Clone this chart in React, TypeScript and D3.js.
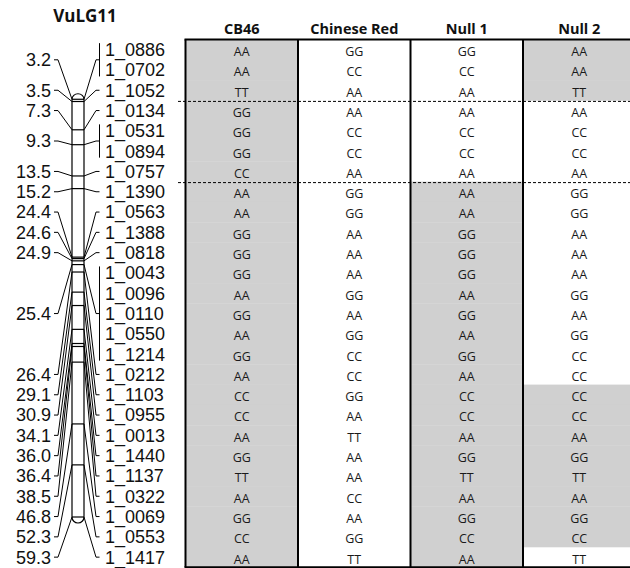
import React from "react";
import * as d3 from "d3";

const title = "VuLG11";
const markers = [
  "1_0886", "1_0702", "1_1052", "1_0134", "1_0531", "1_0894", "1_0757", "1_1390",
  "1_0563", "1_1388", "1_0818", "1_0043", "1_0096", "1_0110", "1_0550", "1_1214",
  "1_0212", "1_1103", "1_0955", "1_0013", "1_1440", "1_1137", "1_0322", "1_0069",
  "1_0553", "1_1417",
];
const positions = [
  3.2, 3.2, 3.5, 7.3, 9.3, 9.3, 13.5, 15.2, 24.4, 24.6, 24.9, 25.4, 25.4, 25.4, 25.4,
  25.4, 26.4, 29.1, 30.9, 34.1, 36.0, 36.4, 38.5, 46.8, 52.3, 59.3,
];
const lines = ["CB46", "Chinese Red", "Null 1", "Null 2"];
const cb46 = ["AA","AA","TT","GG","GG","GG","CC","AA","AA","GG","GG","GG","AA","GG","AA","GG","AA","CC","CC","AA","GG","TT","AA","GG","CC","AA"];
const chineseRed = ["GG","CC","AA","AA","CC","CC","AA","GG","GG","AA","AA","AA","GG","AA","GG","CC","CC","GG","AA","TT","AA","AA","CC","AA","GG","TT"];
const null1 = ["GG","CC","AA","AA","CC","CC","AA","AA","AA","GG","GG","GG","AA","GG","AA","GG","AA","CC","CC","AA","GG","TT","AA","GG","CC","AA"];
const null2 = ["AA","AA","TT","AA","CC","CC","AA","GG","GG","AA","AA","AA","GG","AA","GG","CC","CC","CC","CC","AA","GG","TT","AA","GG","CC","TT"];
const genotypes = [cb46, chineseRed, null1, null2];
const dividerAfterRows = [2, 6];

const W = 630;
const H = 568;

export default function App() {
  const yRow = d3.scaleBand<string>().domain(markers).range([39.5, 567.3]).padding(0);
  const rh = yRow.bandwidth();
  const rc = (i: number) => (yRow(markers[i]) as number) + rh / 2;
  const xCol = d3.scaleBand<string>().domain(lines).range([185.5, 635.5]).padding(0);
  const cw = xCol.bandwidth();
  const yCM = d3.scaleLinear().domain([3.5, 59.3]).range([101.5, 517]);

  const barL = 72;
  const barR = 84;
  const minP = d3.min(positions) as number;
  const maxP = d3.max(positions) as number;
  const yTop = yCM(minP);
  const yBot = yCM(maxP);

  const groups = d3.groups(
    positions.map((p, i) => ({ p, i })),
    (d) => d.p
  ).map(([p, arr]) => {
    const idx = arr.map((a) => a.i);
    const first = d3.min(idx) as number;
    const last = d3.max(idx) as number;
    return { p, first, last, ly: (rc(first) + rc(last)) / 2, my: yCM(p) };
  });

  const chromPath =
    `M${barL},${yTop} L${barL},${yBot} A6,6 0 0 0 ${barR},${yBot} ` +
    `L${barR},${yTop} A6,5.5 0 0 0 ${barL},${yTop} Z`;

  const labelFont = "'Liberation Sans', Arial, sans-serif";
  const tableFont = "'Open Sans', sans-serif";

  return (
    <svg
      width={W}
      height={H}
      style={{ position: "absolute", left: 0, top: 0, background: "#fff" }}
    >
      <rect x={0} y={0} width={W} height={H} fill="#fff" />
      <text
        x={85}
        y={22}
        textAnchor="middle"
        fontFamily={tableFont}
        fontWeight="bold"
        fontSize={17}
        fill="#111"
      >
        {title}
      </text>

      {lines.map((ln, c) =>
        markers.map((m, r) => {
          const g = genotypes[c][r];
          const shaded = g === cb46[r];
          return (
            <g key={`${c}-${r}`}>
              {shaded && (
                <rect
                  x={xCol(ln) as number}
                  y={yRow(m) as number}
                  width={cw}
                  height={rh + 0.3}
                  fill="#d0d0d0"
                />
              )}
              <text
                x={(xCol(ln) as number) + cw / 2}
                y={(yRow(m) as number) + 16.5}
                textAnchor="middle"
                fontFamily={tableFont}
                fontSize={12.5}
                fill="#1a1a1a"
              >
                {g}
              </text>
            </g>
          );
        })
      )}

      {lines.map((ln) => (
        <text
          key={ln}
          x={(xCol(ln) as number) + cw / 2}
          y={34}
          textAnchor="middle"
          fontFamily={tableFont}
          fontWeight="bold"
          fontSize={14.5}
          fill="#111"
        >
          {ln}
        </text>
      ))}

      {lines.map((ln) => (
        <line
          key={"v" + ln}
          x1={xCol(ln) as number}
          x2={xCol(ln) as number}
          y1={39.5}
          y2={567.3}
          stroke="#000"
          strokeWidth={2}
        />
      ))}
      <line x1={635.5} x2={635.5} y1={39.5} y2={567.3} stroke="#000" strokeWidth={2} />
      <line x1={184.5} x2={W} y1={39.5} y2={39.5} stroke="#000" strokeWidth={2} />
      <line x1={184.5} x2={W} y1={567.3} y2={567.3} stroke="#000" strokeWidth={2} />

      {dividerAfterRows.map((r) => {
        const y = (yRow(markers[r]) as number) + rh + 1;
        return (
          <line
            key={"d" + r}
            x1={178}
            x2={W}
            y1={y}
            y2={y}
            stroke="#000"
            strokeWidth={1}
            strokeDasharray="3,2"
          />
        );
      })}

      <path d={chromPath} fill="#fff" stroke="#000" strokeWidth={1.2} />
      {groups.map((g) => (
        <line
          key={"t" + g.p}
          x1={barL}
          x2={barR}
          y1={g.my}
          y2={g.my}
          stroke="#000"
          strokeWidth={1.2}
        />
      ))}

      {groups.map((g) => (
        <g key={"c" + g.p} fill="none" stroke="#000" strokeWidth={1}>
          <polyline points={`54,${g.ly} 58,${g.ly} ${barL},${g.my}`} />
          <polyline points={`${barR},${g.my} 96,${g.ly} 99.5,${g.ly}`} />
          {g.last > g.first && (
            <line
              x1={99.5}
              x2={99.5}
              y1={rc(g.first) - 6.5}
              y2={rc(g.last) + 6.5}
            />
          )}
        </g>
      ))}

      {groups.map((g) => (
        <text
          key={"p" + g.p}
          x={51}
          y={g.ly + 6.4}
          textAnchor="end"
          fontFamily={labelFont}
          fontSize={18}
          fill="#111"
        >
          {g.p.toFixed(1)}
        </text>
      ))}

      {markers.map((m, i) => (
        <text
          key={"m" + m}
          x={105}
          y={rc(i) + 6.4}
          fontFamily={labelFont}
          fontSize={18}
          fill="#111"
        >
          {m}
        </text>
      ))}
    </svg>
  );
}
